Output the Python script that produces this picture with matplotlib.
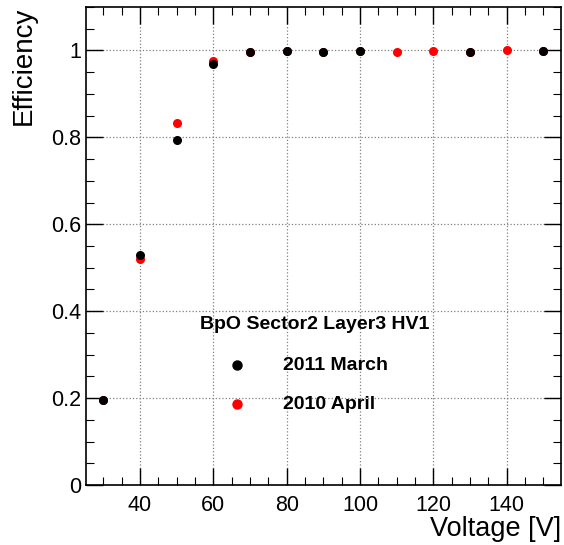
import matplotlib.pyplot as plt
from matplotlib.ticker import MultipleLocator

plt.rcParams['font.family'] = ['Liberation Sans', 'DejaVu Sans']

# HV scan, BpO sector 2 layer 3 HV1
volt_april = [30, 40, 50, 60, 70, 80, 90, 100, 110, 120, 130, 140, 150]
eff_april = [0.195, 0.520, 0.834, 0.976, 0.996, 0.998, 0.997, 0.998, 0.996, 0.999, 0.997, 1.000, 0.998]
volt_march = [30, 40, 50, 60, 70, 80, 90, 100, 130, 150]
eff_march = [0.196, 0.529, 0.794, 0.969, 0.996, 0.998, 0.997, 0.998, 0.997, 0.998]

fig = plt.figure(figsize=(5.64, 5.45), dpi=100)
ax = fig.add_axes([86 / 564, 60 / 545, 475 / 564, 478 / 545])

ax.plot(volt_april, eff_april, 'o', color='red', ms=6.5, mec='none')
ax.plot(volt_march, eff_march, 'o', color='black', ms=6.5, mec='none')

ax.set_xlim(25.3, 154.8)
ax.set_ylim(0, 1.1)
ax.xaxis.set_major_locator(MultipleLocator(20))
ax.xaxis.set_minor_locator(MultipleLocator(5))
ax.yaxis.set_minor_locator(MultipleLocator(0.05))
ax.set_yticks([0, 0.2, 0.4, 0.6, 0.8, 1.0])
ax.set_yticklabels(['0', '0.2', '0.4', '0.6', '0.8', '1'])
ax.tick_params(which='both', direction='in', top=True, right=True, labelsize=15.5)
ax.tick_params(which='major', length=12, width=1)
ax.tick_params(which='minor', length=6, width=0.8)
ax.tick_params(axis='x', pad=7)
ax.grid(True, which='major', color='gray', linestyle=':', linewidth=0.9)
for s in ax.spines.values():
    s.set_linewidth(1.2)

ax.set_xlabel('Voltage [V]', fontsize=19.5, loc='right', labelpad=0)
ax.set_ylabel('Efficiency', fontsize=20, loc='top', labelpad=10)

# legend drawn ROOT-style inside the pad
ax.text(0.482, 0.335, 'BpO Sector2 Layer3 HV1', transform=ax.transAxes,
        ha='center', va='center', fontsize=14, fontweight='bold')
ax.plot([0.317], [0.251], 'o', color='black', ms=6.5, transform=ax.transAxes)
ax.plot([0.317], [0.169], 'o', color='red', ms=6.5, transform=ax.transAxes)
ax.text(0.415, 0.251, '2011 March', transform=ax.transAxes,
        ha='left', va='center', fontsize=14, fontweight='bold')
ax.text(0.415, 0.169, '2010 April', transform=ax.transAxes,
        ha='left', va='center', fontsize=14, fontweight='bold')

fig.savefig('out.png', dpi=100)
